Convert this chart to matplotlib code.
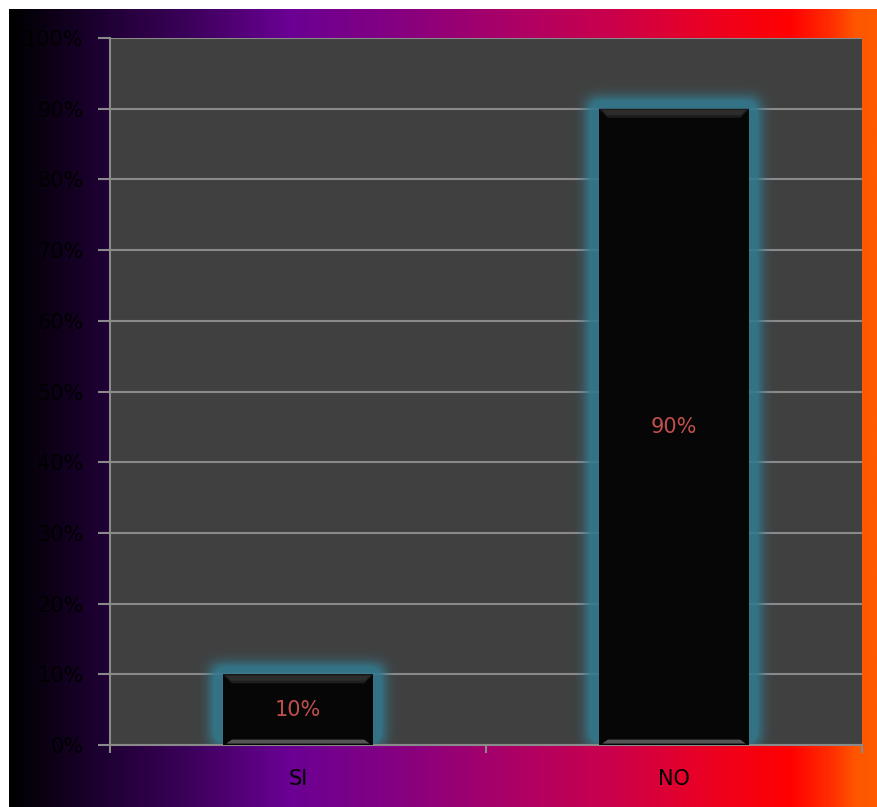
import matplotlib.pyplot as plt
import numpy as np
from matplotlib.colors import LinearSegmentedColormap
from matplotlib.patches import Polygon, Rectangle
from matplotlib.ticker import FuncFormatter, MultipleLocator

CATEGORIES = ["SI", "NO"]
VALUES = [10, 90]  # percent
VALUE_LABELS = ["10%", "90%"]

BAR_WIDTH = 0.4
PLOT_BG = "#404040"
GRID_COLOR = "#8a8a8a"
BAR_COLOR = "#060606"
GLOW_RGB = (0.20, 0.48, 0.56)
LABEL_COLOR = "#c0504d"

W, H = 878, 807
fig = plt.figure(figsize=(W / 100, H / 100), dpi=100)
fig.patch.set_facecolor("white")

# horizontal backdrop gradient, black -> purple -> magenta -> red -> orange
bg_cmap = LinearSegmentedColormap.from_list(
    "backdrop",
    [
        (0.00, "#000000"),
        (0.10, "#1c0030"),
        (0.20, "#3a0058"),
        (0.32, "#6a0094"),
        (0.45, "#860080"),
        (0.58, "#ac0066"),
        (0.70, "#cc004a"),
        (0.80, "#ea0024"),
        (0.90, "#ff0000"),
        (0.95, "#ff3000"),
        (0.975, "#ff5500"),
        (1.00, "#ff5a00"),
    ],
)
bg_ax = fig.add_axes([9 / W, 0, 1 - 9 / W, 1 - 9 / H])
bg_ax.imshow(np.linspace(0, 1, 512)[None, :], cmap=bg_cmap, aspect="auto",
             extent=(0, 1, 0, 1))
bg_ax.set_axis_off()

left, right, top, bottom = 110, 862, 38, 745
ax = fig.add_axes([left / W, 1 - bottom / H, (right - left) / W, (bottom - top) / H])
ax.set_facecolor(PLOT_BG)
ax.set_xlim(-0.5, len(CATEGORIES) - 0.5)
ax.set_ylim(0, 100)

ax.yaxis.set_major_locator(MultipleLocator(10))
ax.yaxis.set_major_formatter(FuncFormatter(lambda v, _: f"{v:.0f}%"))
ax.grid(axis="y", color=GRID_COLOR, linewidth=1.5, zorder=1)
ax.set_axisbelow(True)

x = np.arange(len(CATEGORIES))
ax.set_xticks(x)
ax.set_xticklabels(CATEGORIES)
ax.set_xticks(np.arange(len(CATEGORIES) + 1) - 0.5, minor=True)
ax.tick_params(axis="x", which="major", length=0, pad=17, labelsize=15, labelcolor="black")
ax.tick_params(axis="x", which="minor", length=6, width=1.5, color=GRID_COLOR)
ax.tick_params(axis="y", length=9, width=1.5, color=GRID_COLOR, pad=10,
               labelsize=15, labelcolor="black")
for side in ("top", "right"):
    ax.spines[side].set_visible(False)
for side in ("left", "bottom"):
    ax.spines[side].set_color(GRID_COLOR)
    ax.spines[side].set_linewidth(1.5)

# soft teal glow behind each bar: blurred mask rendered in axes pixels
pw, ph = right - left, bottom - top
px_per_x = pw / len(CATEGORIES)
px_per_y = ph / 100.0
mask = np.zeros((ph, pw))
for xi, v in zip(x, VALUES):
    x0 = int((xi - BAR_WIDTH / 2 + 0.5) * px_per_x) - 10
    x1 = int((xi + BAR_WIDTH / 2 + 0.5) * px_per_x) + 10
    y1 = ph - int(v * px_per_y) - 10
    mask[max(y1, 0):, max(x0, 0):min(x1, pw)] = 1.0
k = np.arange(-24, 25)
kern = np.exp(-0.5 * (k / 7.0) ** 2)
kern /= kern.sum()
mask = np.apply_along_axis(lambda r: np.convolve(r, kern, mode="same"), 1, mask)
mask = np.apply_along_axis(lambda c: np.convolve(c, kern, mode="same"), 0, mask)
glow = np.zeros((ph, pw, 4))
glow[..., :3] = GLOW_RGB
glow[..., 3] = np.clip(mask * 1.6, 0, 1) * 0.9
ax.imshow(glow, extent=(-0.5, len(CATEGORIES) - 0.5, 0, 100), aspect="auto",
          zorder=2, interpolation="bilinear")

bars = ax.bar(x, VALUES, width=BAR_WIDTH, color=BAR_COLOR, zorder=3)

# bevel highlights on the bar faces
dx = 9 / px_per_x
dy = 9 / px_per_y
for bar in bars:
    bx, bw, bh = bar.get_x(), bar.get_width(), bar.get_height()
    ax.add_patch(Polygon([(bx, bh), (bx + bw, bh), (bx + bw - dx, bh - dy),
                          (bx + dx, bh - dy)],
                         closed=True, facecolor="#1e1e1e", edgecolor="none", zorder=4))
    ax.add_patch(Polygon([(bx + dx * 0.4, bh - dy * 0.15), (bx + bw - dx * 0.4, bh - dy * 0.15),
                          (bx + bw - dx * 0.9, bh - dy * 0.7), (bx + dx * 0.9, bh - dy * 0.7)],
                         closed=True, facecolor="#2c2c2c", edgecolor="none", zorder=4))
    ax.add_patch(Polygon([(bx + dx * 0.4, 0.2), (bx + bw - dx * 0.4, 0.2),
                          (bx + bw - dx, dy * 0.6), (bx + dx, dy * 0.6)],
                         closed=True, facecolor="#555555", edgecolor="none", zorder=4))

for xi, v, lab in zip(x, VALUES, VALUE_LABELS):
    ax.text(xi, v / 2, lab, ha="center", va="center", color=LABEL_COLOR,
            fontsize=15, zorder=5)

fig.savefig("out.png", dpi=100)
